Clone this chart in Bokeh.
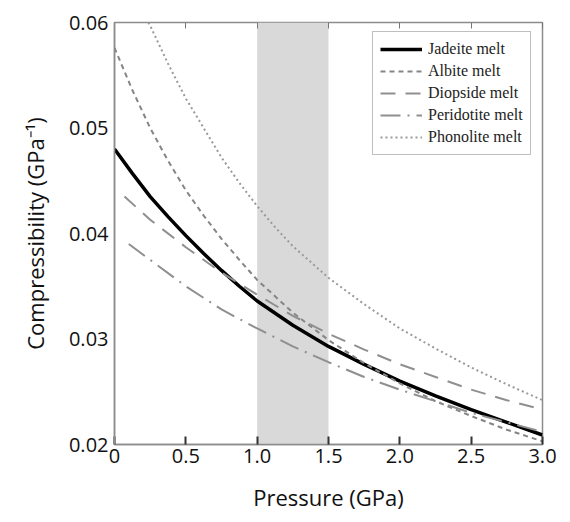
from bokeh.plotting import figure
from bokeh.models import FixedTicker, LinearAxis, BoxAnnotation, Legend, LegendItem, Range1d
from bokeh.embed import file_html
from bokeh.resources import INLINE

# ---- data ----
jadeite_p = [0.0, 0.125, 0.25, 0.375, 0.5, 0.625, 0.75, 0.875, 1.0, 1.25, 1.5, 1.75, 2.0, 2.25, 2.5, 2.75, 3.0]
jadeite_k = [0.0480, 0.0457, 0.0435, 0.0416, 0.0398, 0.0381, 0.0365, 0.0350, 0.0336, 0.0313, 0.0293, 0.0276, 0.0260, 0.0246, 0.0233, 0.0221, 0.0209]

albite_p = [0.0, 0.125, 0.25, 0.375, 0.5, 0.625, 0.75, 0.875, 1.0, 1.25, 1.5, 1.75, 2.0, 2.25, 2.5, 2.75, 3.0]
albite_k = [0.0576, 0.0536, 0.0500, 0.0469, 0.0441, 0.0417, 0.0395, 0.0375, 0.0356, 0.0325, 0.0299, 0.0277, 0.0258, 0.0241, 0.0227, 0.0214, 0.0203]

diopside_p = [0.07, 0.25, 0.5, 0.75, 1.0, 1.25, 1.5, 1.75, 2.0, 2.25, 2.5, 2.75, 3.0]
diopside_k = [0.0435, 0.0413, 0.0387, 0.0363, 0.0342, 0.0322, 0.0305, 0.0290, 0.0276, 0.0264, 0.0252, 0.0242, 0.0233]

peridotite_p = [0.1, 0.25, 0.5, 0.75, 1.0, 1.25, 1.5, 1.75, 2.0, 2.25, 2.5, 2.75, 3.0]
peridotite_k = [0.0390, 0.0375, 0.0350, 0.0328, 0.0310, 0.0293, 0.0278, 0.0264, 0.0252, 0.0241, 0.0230, 0.0221, 0.0212]

phonolite_p = [0.2, 0.25, 0.375, 0.5, 0.625, 0.75, 0.875, 1.0, 1.125, 1.25, 1.5, 1.75, 2.0, 2.25, 2.5, 2.75, 3.0]
phonolite_k = [0.0608, 0.0597, 0.0561, 0.0528, 0.0500, 0.0472, 0.0448, 0.0426, 0.0406, 0.0388, 0.0358, 0.0333, 0.0310, 0.0291, 0.0273, 0.0257, 0.0242]

band_start, band_end = 1.0, 1.5

x_ticks = [0, 0.5, 1.0, 1.5, 2.0, 2.5, 3.0]
x_tick_labels = ["0", "0.5", "1.0", "1.5", "2.0", "2.5", "3.0"]
y_ticks = [0.02, 0.03, 0.04, 0.05, 0.06]
y_tick_labels = ["0.02", "0.03", "0.04", "0.05", "0.06"]

series_names = ["Jadeite melt", "Albite melt", "Diopside melt", "Peridotite melt", "Phonolite melt"]

# ---- figure ----
p = figure(width=562, height=514, x_range=Range1d(0, 3), y_range=Range1d(0.02, 0.06),
           output_backend="svg", toolbar_location=None,
           min_border_left=114, min_border_right=20, min_border_top=22, min_border_bottom=67)
p.xgrid.visible = False
p.ygrid.visible = False
p.outline_line_color = "#8c8c8c"
p.outline_line_width = 1.5

band = BoxAnnotation(left=band_start, right=band_end, fill_color="#d9d9d9", fill_alpha=1.0,
                     line_alpha=0, level="underlay")
p.add_layout(band)

gray = "#8f8f8f"
r_jad = p.line(jadeite_p, jadeite_k, line_color="black", line_width=3.5)
r_alb = p.line(albite_p, albite_k, line_color="#858585", line_width=2, line_dash="5 4")
r_dio = p.line(diopside_p, diopside_k, line_color=gray, line_width=2, line_dash="15 10")
r_per = p.line(peridotite_p, peridotite_k, line_color=gray, line_width=2, line_dash="20 7 2 7")
r_pho = p.line(phonolite_p, phonolite_k, line_color="#999999", line_width=2, line_dash="2 3")

# ---- axes ----
xa = p.xaxis[0]
xa.ticker = FixedTicker(ticks=x_ticks)
xa.major_label_overrides = {t: l for t, l in zip(x_ticks, x_tick_labels)}
xa.major_tick_in = 8
xa.major_tick_out = 0
xa.major_tick_line_color = "#333333"
xa.major_tick_line_width = 2
xa.minor_tick_line_color = None
xa.axis_line_color = "#8c8c8c"
xa.axis_line_width = 1.5
xa.major_label_text_font = "Open Sans"
xa.major_label_text_font_size = "20px"
xa.major_label_text_color = "#111111"
xa.major_label_standoff = 4
xa.axis_label = "Pressure (GPa)"
xa.axis_label_text_font = "Open Sans"
xa.axis_label_text_font_size = "22px"
xa.axis_label_text_font_style = "normal"
xa.axis_label_text_color = "#111111"
xa.axis_label_standoff = 16

ya = p.yaxis[0]
ya.ticker = FixedTicker(ticks=y_ticks)
ya.major_label_overrides = {t: l for t, l in zip(y_ticks, y_tick_labels)}
ya.major_tick_in = 0
ya.major_tick_out = 0
ya.minor_tick_line_color = None
ya.axis_line_color = "#8c8c8c"
ya.axis_line_width = 1.5
ya.major_label_text_font = "Open Sans"
ya.major_label_text_font_size = "20px"
ya.major_label_text_color = "#111111"
ya.major_label_standoff = 6
ya.axis_label = "Compressibility (GPa\u207b\u00b9)"
ya.axis_label_text_font = "Open Sans"
ya.axis_label_text_font_size = "22px"
ya.axis_label_text_font_style = "normal"
ya.axis_label_text_color = "#111111"
ya.axis_label_standoff = 16

top = LinearAxis(ticker=FixedTicker(ticks=x_ticks),
                 major_label_overrides={t: "" for t in x_ticks},
                 major_tick_in=6, major_tick_out=0, major_tick_line_color="#777777",
                 minor_tick_line_color=None, axis_line_alpha=0,
                 major_label_text_font_size="1px", major_label_standoff=0)
p.add_layout(top, "above")

# ---- legend ----
legend = Legend(items=[LegendItem(label=n, renderers=[r]) for n, r in
                       zip(series_names, [r_jad, r_alb, r_dio, r_per, r_pho])],
                location=(258, 289))
legend.label_text_font = "Liberation Serif"
legend.label_text_font_size = "16px"
legend.label_text_color = "#222222"
legend.glyph_width = 42
legend.glyph_height = 20
legend.label_height = 20
legend.spacing = 2
legend.padding = 7
legend.label_standoff = 6
legend.margin = 0
legend.border_line_color = "#808080"
legend.border_line_width = 1.5
legend.background_fill_color = "white"
legend.background_fill_alpha = 1.0
p.add_layout(legend)

open("out.html", "w").write(file_html(p, INLINE))
